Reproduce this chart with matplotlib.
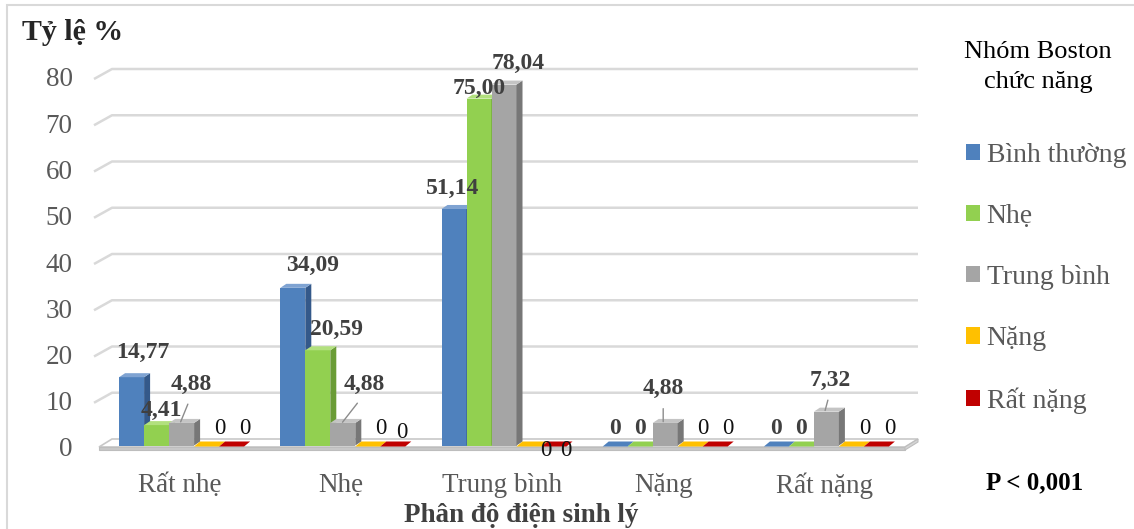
import matplotlib
matplotlib.use("Agg")
import matplotlib.pyplot as plt
from matplotlib.patches import Polygon, Rectangle, Patch

plt.rcParams['font.family'] = ['Liberation Serif', 'DejaVu Serif']

# ---- data -------------------------------------------------------------
categories = ["Rất nhẹ", "Nhẹ", "Trung bình", "Nặng", "Rất nặng"]
series_names = ["Bình thường", "Nhẹ", "Trung bình", "Nặng", "Rất nặng"]
binh_thuong = [14.77, 34.09, 51.14, 0, 0]
nhe = [4.41, 20.59, 75.00, 0, 0]
trung_binh = [4.88, 4.88, 78.04, 4.88, 7.32]
nang = [0, 0, 0, 0, 0]
rat_nang = [0, 0, 0, 0, 0]
y_ticks = [0, 10, 20, 30, 40, 50, 60, 70, 80]

series_values = [binh_thuong, nhe, trung_binh, nang, rat_nang]

# ---- styling ----------------------------------------------------------
front_colors = ["#4F81BD", "#92D050", "#A5A5A5", "#FFC000", "#C00000"]
side_colors = ["#34598A", "#6A9C36", "#777777", "#C79600", "#8A0000"]
top_colors = ["#7FA3D2", "#B2E07E", "#C4C4C4", "#FFD24D", "#D83030"]
grid_color = "#D9D9D9"
axis_text = "#595959"

W_PX, H_PX = 1134, 529
fig = plt.figure(figsize=(W_PX / 100, H_PX / 100), dpi=100)
ax_left, ax_right, ax_bottom, ax_top = 99, 905, 447, 77
ax = fig.add_axes([ax_left / W_PX, (H_PX - ax_bottom) / H_PX,
                   (ax_right - ax_left) / W_PX, (ax_bottom - ax_top) / H_PX])
n_cat = len(categories)
ax.set_xlim(-0.5, n_cat - 0.5)
ax.set_ylim(0, 80)
for s in ax.spines.values():
    s.set_visible(False)

# pixel -> data unit helpers
ux = (ax_right - ax_left) / n_cat
uy = (ax_bottom - ax_top) / 80.0
DX, DY = 13 / ux, 8 / uy           # depth of floor / back wall
BAR_W = 25 / ux
BX0, BY0 = 2 / ux, 1.5 / uy        # bar set-back from floor front
BDX, BDY = 6 / ux, 4 / uy          # bar depth

# back-wall gridlines with short side-wall segment
for y in y_ticks[1:]:
    ax.plot([-0.5 - 5 / ux, -0.5 + DX, n_cat - 0.5 + DX],
            [y - 2 / uy, y + DY, y + DY],
            color=grid_color, lw=1.8, zorder=1, clip_on=False,
            solid_capstyle='butt')

# floor slab
x0f, x1f = -0.5, n_cat - 0.5
ax.add_patch(Polygon([(x0f, 0), (x1f, 0), (x1f + DX, DY), (x0f + DX, DY)],
                     closed=True, facecolor="white", edgecolor="#C8C8C8",
                     lw=1.2, zorder=2, clip_on=False))
ax.add_patch(Polygon([(x0f, 0), (x1f, 0), (x1f, -3 / uy), (x0f, -3 / uy)],
                     closed=True, facecolor="#C8C8C8", edgecolor="#BDBDBD",
                     lw=0.8, zorder=2, clip_on=False))
ax.add_patch(Polygon([(x1f, 0), (x1f + DX, DY), (x1f + DX, DY - 3 / uy),
                      (x1f, -3 / uy)],
                     closed=True, facecolor="#D5D5D5", edgecolor="#BDBDBD",
                     lw=0.8, zorder=2, clip_on=False))

# 3-D looking bars
n_ser = len(series_values)
bar_centers = {}
z = 3
for ci in range(n_cat):
    for si in range(n_ser):
        v = series_values[si][ci]
        cx = ci + (si - (n_ser - 1) / 2) * BAR_W
        bar_centers[(si, ci)] = cx
        xl = cx - BAR_W / 2 + BX0
        xr = xl + BAR_W
        yb = BY0
        yt = BY0 + v
        front = [(xl, yb), (xr, yb), (xr, yt), (xl, yt)]
        side = [(xr, yb), (xr + BDX, yb + BDY), (xr + BDX, yt + BDY), (xr, yt)]
        top = [(xl, yt), (xr, yt), (xr + BDX, yt + BDY), (xl + BDX, yt + BDY)]
        if v > 0:
            ax.add_patch(Polygon(front, closed=True, facecolor=front_colors[si],
                                 edgecolor='none', zorder=z, clip_on=False))
            ax.add_patch(Polygon(side, closed=True, facecolor=side_colors[si],
                                 edgecolor='none', zorder=z, clip_on=False))
            ax.add_patch(Polygon(top, closed=True, facecolor=top_colors[si],
                                 edgecolor='none', zorder=z, clip_on=False))
        else:
            flat = [(xl, yb - 1 / uy), (xr, yb - 1 / uy), (xr + BDX, yb + BDY),
                    (xl + BDX, yb + BDY)]
            ax.add_patch(Polygon(flat, closed=True, facecolor=front_colors[si],
                                 edgecolor='none', zorder=z, clip_on=False))
        z += 0.01

# data labels: offsets in pixels from the top-centre of each bar
label_offsets = {
    (0, 0): (13, 26), (1, 0): (7, 16), (2, 0): (12, 40),
    (0, 1): (22, 24), (1, 1): (21, 22), (2, 1): (23, 40),
    (0, 2): (1, 22), (1, 2): (2, 12), (2, 2): (16, 23),
    (2, 3): (0, 36), (2, 4): (6, 33),
    (4, 1): (11, 14),
    (3, 2): (19, -4), (4, 2): (14, -4),
}
leader_labels = {(2, 0), (2, 1), (2, 3), (2, 4)}


def fmt(v):
    return "0" if v == 0 else f"{v:.2f}".replace(".", ",")


for (si, ci), cx in bar_centers.items():
    v = series_values[si][ci]
    if (si, ci) in label_offsets:
        off = label_offsets[(si, ci)]
    elif v == 0 and si >= 3:
        off = (15, 19)
    else:
        off = (2, 19)
    bold = si < 3
    kw = dict(xy=(cx, v), xycoords='data', xytext=off,
              textcoords='offset pixels', ha='center', va='center',
              fontsize=17 if bold else 16.5,
              fontweight='bold' if bold else 'normal',
              color="#404040" if bold else "#111111", zorder=10,
              annotation_clip=False)
    if (si, ci) in leader_labels:
        kw['arrowprops'] = dict(arrowstyle='-', color='#8C8C8C', lw=1,
                                shrinkA=5, shrinkB=2, relpos=(0.5, 0.0))
    ax.annotate(fmt(v), **kw)

# axes ticks and labels
ax.set_yticks(y_ticks)
ax.set_yticklabels([str(t) for t in y_ticks], fontsize=19.5, color=axis_text)
ax.set_xticks(range(n_cat))
ax.set_xticklabels(categories, fontsize=19.5, color=axis_text)
ax.tick_params(axis='y', length=0, pad=19)
ax.tick_params(axis='x', length=0, pad=18.5)

fig.text(22 / W_PX, 1 - 32 / H_PX, "Tỷ lệ %", fontsize=21.5, fontweight='bold',
         color="#262626", ha='left', va='center')
fig.text(521 / W_PX, 1 - 515 / H_PX, "Phân độ điện sinh lý", fontsize=19.5,
         fontweight='bold', color="#404040", ha='center', va='center')
fig.text(1035 / W_PX, 1 - 483 / H_PX, "P < 0,001", fontsize=18,
         fontweight='bold', color="black", ha='center', va='center')

# legend title and entries
fig.text(1038 / W_PX, 1 - 67 / H_PX, "Nhóm Boston\nchức năng", fontsize=19,
         color="black", ha='center', va='center', linespacing=1.5,
         multialignment='center')
handles = [Patch(facecolor=c, edgecolor='none') for c in front_colors]
leg = fig.legend(handles, series_names, loc='upper left',
                 bbox_to_anchor=(966 / W_PX, 1 - 143 / H_PX), frameon=False,
                 fontsize=20, labelcolor=axis_text, handlelength=0.52,
                 handleheight=0.52, handletextpad=0.22, labelspacing=1.3,
                 borderpad=0.0, borderaxespad=0.0)

# chart border
fig.patches.append(Rectangle((7 / W_PX, -0.1), 1.5, 1 - 5 / H_PX + 0.1,
                             transform=fig.transFigure, fill=False,
                             edgecolor="#D9D9D9", lw=1.5))

fig.savefig("out.png", dpi=100)
